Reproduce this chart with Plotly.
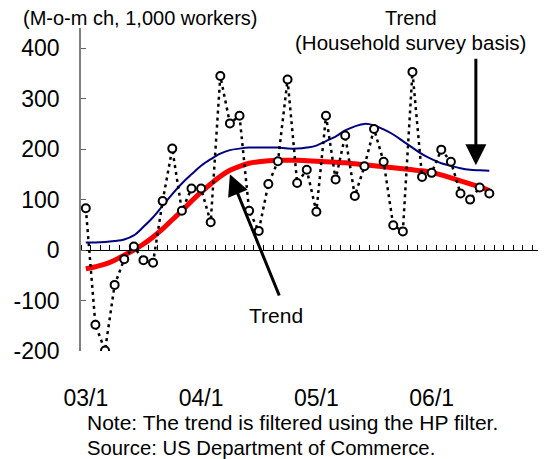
import plotly.graph_objects as go

# Monthly change in payrolls, 2003/1 .. 2006/7 (1,000 workers)
months = [f"{y:02d}/{m}" for y in (3, 4, 5, 6) for m in range(1, 13)][:43]
payrolls = [83, -148, -199, -69, -18, 7, -20, -25, 97, 201, 78, 122,
            122, 55, 345, 251, 266, 78, 38, 131, 176, 338, 133, 159,
            76, 266, 140, 227, 107, 166, 240, 175, 49, 37, 353, 145,
            153, 199, 175, 112, 100, 124, 112]
trend = [-37, -33, -28, -20, -10, 0, 12, 26, 42, 60, 78, 97,
         115, 131, 146, 158, 166, 172, 175, 177, 178, 178, 178, 177,
         176, 175, 174, 173, 171, 169, 167, 165, 163, 161, 159, 157,
         154, 149, 143, 137, 131, 125, 118]
trend_household = [15, 15, 16, 18, 21, 29, 46, 65, 88, 111, 132, 150,
                   167, 180, 191, 198, 201, 203, 203, 203, 203, 201, 201, 203,
                   207, 216, 225, 237, 245, 250, 247, 239, 229, 216, 203, 190,
                   180, 172, 167, 162, 159, 158, 157]
year_ticks = ["03/1", "04/1", "05/1", "06/1"]
y_ticks = [-200, -100, 0, 100, 200, 300, 400]

x = list(range(len(months)))
FONT = "Arial, Liberation Sans, sans-serif"

# the page body adds an 8px margin, so the figure is drawn 8px smaller
OFF = 8
W, H = 546 - OFF, 459 - OFF
# plot area in page pixels: left 81, right 546, top 28, bottom 351
L, T = 81 - OFF, 28 - OFF
R, B = 0, 459 - 351


def px(xp):
    return (xp - OFF - L) / (W - L - R)


def py(yp):
    return (H - B - (yp - OFF)) / (H - B - T)


fig = go.Figure()

fig.add_trace(go.Scatter(
    x=x, y=trend_household, mode="lines",
    line=dict(color="#000080", width=2, shape="spline"),
    hoverinfo="skip",
))
fig.add_trace(go.Scatter(
    x=x, y=trend, mode="lines",
    line=dict(color="#ff0000", width=5, shape="spline"),
    hoverinfo="skip",
))
fig.add_trace(go.Scatter(
    x=x, y=payrolls, mode="lines+markers",
    line=dict(color="black", width=2.5, dash="3px,4px"),
    marker=dict(symbol="circle", size=8, color="white",
                line=dict(color="black", width=2)),
    text=months,
    hovertemplate="%{text}: %{y}<extra></extra>",
))

annotations = [
    dict(text="(M-o-m ch, 1,000 workers)", x=px(140), y=py(18),
         xanchor="center", yanchor="middle", font=dict(size=20)),
    dict(text="Trend", x=px(411), y=py(18),
         xanchor="center", yanchor="middle", font=dict(size=20)),
    dict(text="(Household survey basis)", x=px(410), y=py(43),
         xanchor="center", yanchor="middle", font=dict(size=20.5)),
    dict(text="Trend", x=px(276), y=py(315),
         xanchor="center", yanchor="middle", font=dict(size=21)),
    dict(text="Note: The trend is filtered using the HP filter.", x=px(85), y=py(422),
         xanchor="left", yanchor="middle", font=dict(size=21)),
    dict(text="Source: US Department of Commerce.", x=px(85), y=py(448),
         xanchor="left", yanchor="middle", font=dict(size=20.3)),
]
for a in annotations:
    a.update(xref="paper", yref="paper", showarrow=False)

# arrows (tip at x/y, tail at ax/ay, data units)
arrow_style = dict(text="", showarrow=True, arrowhead=2, arrowsize=1.4,
                   arrowwidth=3, arrowcolor="black", standoff=0,
                   xref="x", yref="y", axref="x", ayref="y")
annotations.append(dict(x=15.0, y=150, ax=20.2, ay=-93, **arrow_style))
annotations.append(dict(x=40.6, y=168, ax=40.6, ay=382, **arrow_style))

fig.update_layout(
    width=W, height=H,
    margin=dict(l=L, r=R, t=T, b=B, autoexpand=False),
    paper_bgcolor="white", plot_bgcolor="white",
    font=dict(family=FONT, color="black"),
    showlegend=False,
    annotations=annotations,
    # axis drawn at y = 0, a small tick at each month boundary,
    # year labels pushed down to the bottom of the chart
    xaxis=dict(
        range=[-0.5, 47.9], anchor="free", position=200 / 640,
        showline=True, linecolor="black", linewidth=1,
        tickvals=[months.index(t) for t in year_ticks], ticktext=year_ticks,
        ticks="", tickfont=dict(size=23), ticklabelstandoff=127,
        minor=dict(tick0=-0.5, dtick=1, ticks="inside", ticklen=5,
                   tickcolor="black", tickwidth=1, showgrid=False),
        showgrid=False, zeroline=False, automargin=False,
    ),
    yaxis=dict(
        range=[-200, 440], tickvals=y_ticks,
        ticktext=[str(v) for v in y_ticks],
        showline=True, linecolor="#808080", linewidth=1.5,
        ticks="inside", ticklen=5, tickcolor="#606060",
        tickfont=dict(size=23), ticklabelstandoff=15,
        showgrid=False, zeroline=False, automargin=False,
    ),
)

fig.write_html("out.html")
